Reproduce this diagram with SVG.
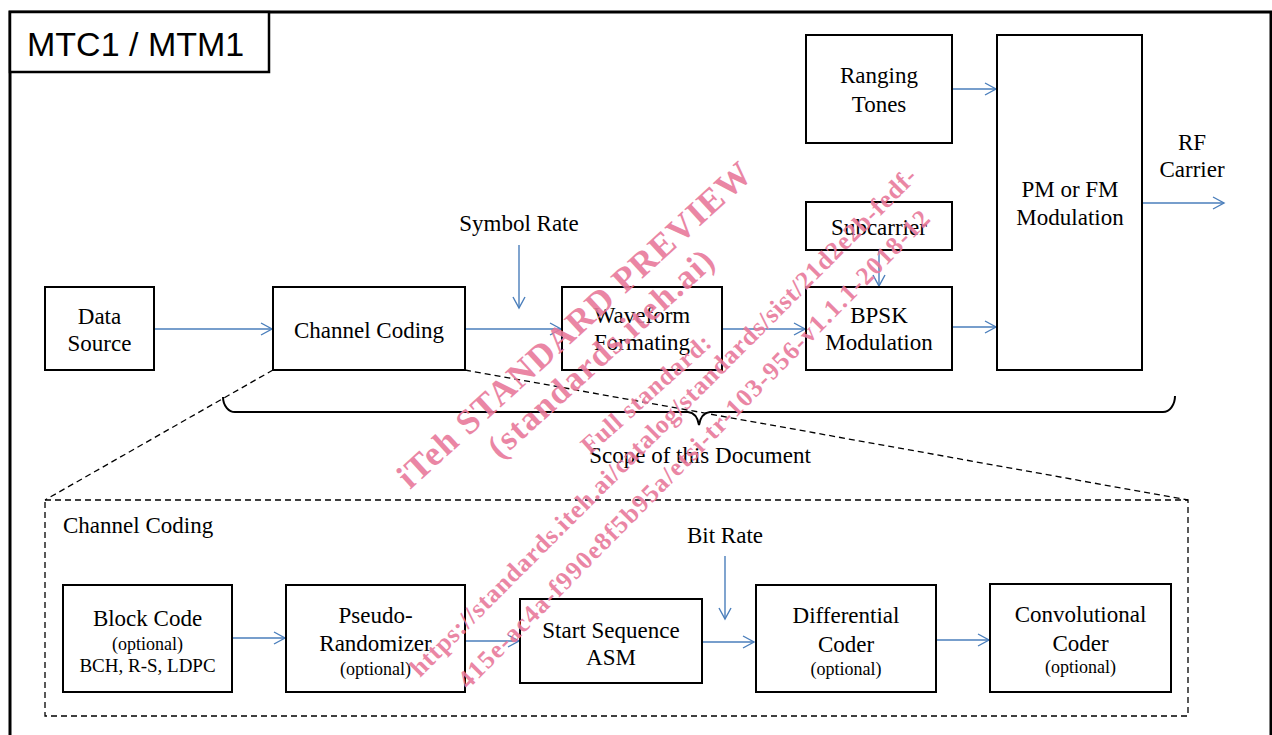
<svg xmlns="http://www.w3.org/2000/svg" width="1272" height="735" viewBox="0 0 1272 735">
<style>
.box{fill:#fff;stroke:#000;stroke-width:2}
.t{font-family:"Liberation Serif","Times New Roman",serif;font-size:23px;fill:#000;text-anchor:middle}
.s{font-size:18px}
.m{font-size:19px}
.arr{stroke:#4a7ebb;stroke-width:1.4;fill:none;marker-end:url(#ah)}
.dash{stroke:#000;stroke-width:1.3;fill:none;stroke-dasharray:6 4}
.wm{font-family:"Liberation Serif","Times New Roman",serif;font-weight:bold;fill:#e8799b;opacity:0.9}
</style>
<defs>
<marker id="ah" markerUnits="userSpaceOnUse" markerWidth="14" markerHeight="16" refX="12" refY="7" orient="auto">
<path d="M1,1 L12,7 L1,13" fill="none" stroke="#4a7ebb" stroke-width="1.4"/>
</marker>
</defs>
<rect width="1272" height="735" fill="#fff"/>
<g id="frame">
<rect x="10" y="12" width="1261" height="760" fill="none" stroke="#000" stroke-width="3"/>
</g>
<g id="title">
<rect x="10" y="12" width="259" height="60" fill="#fff" stroke="#000" stroke-width="2.5"/>
<text x="27" y="56" font-family="Liberation Sans, Arial, sans-serif" font-size="34">MTC1 / MTM1</text>
</g>
<g id="connectors">
<line class="arr" x1="154" y1="329" x2="272" y2="329"/>
<line class="arr" x1="465" y1="329" x2="561" y2="329"/>
<line class="arr" x1="519" y1="245" x2="519" y2="308"/>
<line class="arr" x1="722" y1="329" x2="805" y2="329"/>
<line class="arr" x1="879" y1="250" x2="879" y2="286"/>
<line class="arr" x1="952" y1="89" x2="996" y2="89"/>
<line class="arr" x1="952" y1="327" x2="996" y2="327"/>
<line class="arr" x1="1142" y1="203" x2="1224" y2="203"/>
<line class="arr" x1="232" y1="638" x2="285" y2="638"/>
<line class="arr" x1="465" y1="641" x2="519" y2="641"/>
<line class="arr" x1="725" y1="556" x2="725" y2="619"/>
<line class="arr" x1="702" y1="642" x2="754" y2="642"/>
<line class="arr" x1="936" y1="640" x2="989" y2="640"/>
<line class="dash" x1="273" y1="370" x2="45" y2="500"/>
<line class="dash" x1="465" y1="370" x2="1188" y2="500"/>
<path d="M223,397 A12,15 0 0 0 236,412 L688,412 Q697,413 699,425 Q701,413 710,412 L1163,412 A12,16 0 0 0 1175,396" fill="none" stroke="#000" stroke-width="2"/>
</g>
<g id="scope">
<rect class="dash" x="45" y="500" width="1143" height="216"/>
<text class="t" x="700" y="463">Scope of this Document</text>
<text class="t" x="63" y="533" style="text-anchor:start">Channel Coding</text>
</g>
<g id="data-source">
<rect class="box" x="45" y="287" width="109" height="83"/>
<text class="t" x="99.5" y="324">Data</text>
<text class="t" x="99.5" y="351">Source</text>
</g>
<g id="channel-coding">
<rect class="box" x="273" y="287" width="192" height="83"/>
<text class="t" x="369" y="338">Channel Coding</text>
</g>
<g id="symbol-rate">
<text class="t" x="519" y="231">Symbol Rate</text>
</g>
<g id="waveform">
<rect class="box" x="562" y="287" width="160" height="83"/>
<text class="t" x="642" y="323">Waveform</text>
<text class="t" x="642" y="350">Formating</text>
</g>
<g id="subcarrier">
<rect class="box" x="806" y="202" width="146" height="48"/>
<text class="t" x="879" y="235">Subcarrier</text>
</g>
<g id="bpsk">
<rect class="box" x="806" y="287" width="146" height="83"/>
<text class="t" x="879" y="323">BPSK</text>
<text class="t" x="879" y="350">Modulation</text>
</g>
<g id="ranging">
<rect class="box" x="806" y="35" width="146" height="108"/>
<text class="t" x="879" y="83">Ranging</text>
<text class="t" x="879" y="112">Tones</text>
</g>
<g id="pmfm">
<rect class="box" x="997" y="35" width="145" height="335"/>
<text class="t" x="1070" y="197">PM or FM</text>
<text class="t" x="1070" y="225">Modulation</text>
</g>
<g id="rf-carrier">
<text class="t" x="1192" y="150">RF</text>
<text class="t" x="1192" y="177">Carrier</text>
</g>
<g id="block-code">
<rect class="box" x="63" y="585" width="169" height="107"/>
<text class="t" x="147.5" y="626">Block Code</text>
<text class="t s" x="147.5" y="650">(optional)</text>
<text class="t m" x="147.5" y="672">BCH, R-S, LDPC</text>
</g>
<g id="pseudo">
<rect class="box" x="286" y="585" width="179" height="107"/>
<text class="t" x="375.5" y="623">Pseudo-</text>
<text class="t" x="375.5" y="651">Randomizer</text>
<text class="t s" x="375.5" y="675">(optional)</text>
</g>
<g id="start-seq">
<rect class="box" x="520" y="599" width="182" height="84"/>
<text class="t" x="611" y="638">Start Sequence</text>
<text class="t" x="611" y="665">ASM</text>
</g>
<g id="bit-rate">
<text class="t" x="725" y="543">Bit Rate</text>
</g>
<g id="differential">
<rect class="box" x="756" y="585" width="180" height="107"/>
<text class="t" x="846" y="623">Differential</text>
<text class="t" x="846" y="652">Coder</text>
<text class="t s" x="846" y="675">(optional)</text>
</g>
<g id="convolutional">
<rect class="box" x="990" y="584" width="181" height="108"/>
<text class="t" x="1080.5" y="622">Convolutional</text>
<text class="t" x="1080.5" y="651">Coder</text>
<text class="t s" x="1080.5" y="673">(optional)</text>
</g>
<g id="watermark">
<text class="wm" font-size="35" transform="translate(410,490) rotate(-42.3)" textLength="465" lengthAdjust="spacing">iTeh STANDARD PREVIEW</text>
<text class="wm" font-size="34" transform="translate(500,460) rotate(-42.2)" textLength="292" lengthAdjust="spacing">(standards.iteh.ai)</text>
<text class="wm" font-size="25" transform="translate(590,455) rotate(-41.8)" textLength="165" lengthAdjust="spacing">Full standard:</text>
<text class="wm" font-size="25.5" transform="translate(420,678) rotate(-45.1)" textLength="706" lengthAdjust="spacing">https://standards.iteh.ai/catalog/standards/sist/21d2e2b-fedf-</text>
<text class="wm" font-size="25.5" transform="translate(468,690) rotate(-45.4)" textLength="660" lengthAdjust="spacing">415e-ac4a-f990e8f5b95a/etsi-tr-103-956-v1.1.1-2018-12</text>
</g>
</svg>
